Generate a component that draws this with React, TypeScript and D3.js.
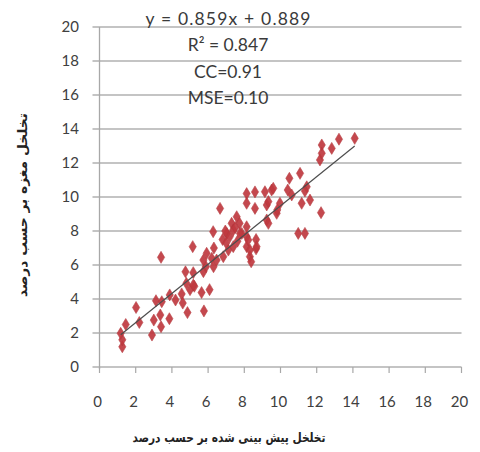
import React from "react";
import * as d3 from "d3";

// Predicted porosity (%) for each core sample
const predicted = [
  1.26, 1.26, 1.17, 1.45, 2.02, 2.2, 2.9, 3.0, 3.12, 3.36, 3.4, 3.4, 3.44, 3.86, 3.88, 4.2,
  4.54, 4.6, 4.75, 4.8, 4.86, 5.15, 5.18, 5.24, 5.0, 5.64, 5.77, 6.08, 5.88, 6.2, 6.28, 6.3,
  6.32, 6.66, 6.84, 6.8, 7.03, 7.12, 7.3, 7.39, 7.58, 7.74, 7.86, 8.13, 8.13, 8.31, 8.38, 8.59,
  8.59, 8.65, 8.65, 9.14, 9.24, 9.24, 9.51, 9.79, 14.1, 13.23, 12.83, 12.28, 12.18, 12.28, 11.08,
  10.49, 11.45, 11.35, 10.4, 11.17, 11.63, 12.24, 10.62, 9.97, 9.82, 9.6, 9.33, 9.33, 8.13, 10.98,
  11.35, 8.68, 8.13, 5.18, 5.74, 5.74, 5.92, 6.47, 7.2, 7.39, 7.76, 8.13, 8.22, 8.31, 7.0, 7.5,
  6.95, 7.62,
];

// Core-measured porosity (%) for the same samples
const measured = [
  1.19, 1.6, 1.98, 2.5, 3.5, 2.62, 1.88, 2.76, 3.9, 3.06, 2.37, 6.45, 3.84, 2.84, 4.24, 3.94,
  4.3, 3.76, 5.6, 4.92, 3.2, 7.08, 5.55, 4.75, 4.55, 4.38, 3.3, 4.55, 5.9, 6.39, 7.96, 5.9,
  7.0, 9.33, 6.49, 7.5, 7.86, 6.88, 8.45, 8.06, 8.84, 8.45, 7.86, 10.2, 7.67, 6.49, 6.19, 10.3,
  9.33, 7.5, 6.95, 10.31, 8.65, 9.53, 10.41, 9.04, 13.45, 13.4, 12.86, 13.06, 12.18, 12.57, 11.39,
  11.1, 10.6, 10.35, 10.41, 9.63, 9.82, 9.08, 10.12, 9.63, 9.24, 10.51, 9.73, 8.45, 9.63, 7.86,
  7.86, 7.08, 7.08, 4.82, 5.61, 6.29, 6.69, 6.29, 7.67, 7.08, 7.86, 8.25, 7.47, 6.88, 7.3, 8.2,
  8.0, 7.4,
];

const xTicks = [0, 2, 4, 6, 8, 10, 12, 14, 16, 18, 20];
const yTicks = [0, 2, 4, 6, 8, 10, 12, 14, 16, 18, 20];

const slope = 0.859;
const intercept = 0.889;
const statLines = ["y = 0.859x + 0.889", "R² = 0.847", "CC=0.91", "MSE=0.10"];

const xTitle = "تخلخل پیش بینی شده بر حسب درصد";
const yTitle = "تخلخل مغزه بر حسب درصد";

export default function App() {
  const width = 480;
  const height = 452;
  const left = 99.5;
  const right = 461.5;
  const top = 27;
  const bottom = 367;

  const x = d3.scaleLinear().domain([0, 20]).range([left, right]);
  const y = d3.scaleLinear().domain([0, 20]).range([bottom, top]);

  const xMin = d3.min(predicted) as number;
  const xMax = d3.max(predicted) as number;
  const trend = d3
    .line<number>()
    .x((d) => x(d))
    .y((d) => y(slope * d + intercept))([xMin, xMax]);

  const diamond = (cx: number, cy: number) => {
    const w = 3.6;
    const h = 6;
    return `M${cx},${cy - h}L${cx + w},${cy}L${cx},${cy + h}L${cx - w},${cy}Z`;
  };

  const labelFont = "Lato, 'DejaVu Sans', sans-serif";

  return (
    <svg width={width} height={height} style={{ position: "absolute", left: 0, top: 0, background: "#fff" }}>
      {/* horizontal gridlines */}
      {yTicks.map((t) => (
        <line key={`g${t}`} x1={left - 7} x2={right} y1={y(t)} y2={y(t)} stroke="#b0b0b0" strokeWidth={1.3} />
      ))}
      {/* y axis */}
      <line x1={left} x2={left} y1={top} y2={bottom + 2} stroke="#a8a8a8" strokeWidth={1.3} />
      {/* x ticks */}
      {xTicks.map((t) => (
        <line key={`xt${t}`} x1={x(t)} x2={x(t)} y1={bottom} y2={bottom + 6} stroke="#a8a8a8" strokeWidth={1.2} />
      ))}
      {/* y tick labels */}
      {yTicks.map((t) => (
        <text
          key={`yl${t}`}
          x={79}
          y={y(t)}
          dy="0.36em"
          textAnchor="end"
          fontFamily={labelFont}
          fontSize={15}
          fill="#404040"
        >
          {t}
        </text>
      ))}
      {/* x tick labels */}
      {xTicks.map((t) => (
        <text
          key={`xl${t}`}
          x={x(t) - 2}
          y={402}
          dy="0.36em"
          textAnchor="middle"
          fontFamily={labelFont}
          fontSize={15}
          fill="#404040"
        >
          {t}
        </text>
      ))}
      {/* data points */}
      {predicted.map((p, i) => (
        <path key={`p${i}`} d={diamond(x(p), y(measured[i]))} fill="#c0393f" stroke="#b3353a" strokeWidth={0.6} opacity={0.92} />
      ))}
      {/* fitted line */}
      <path d={trend ?? ""} fill="none" stroke="#4d4d4d" strokeWidth={1.2} />
      {/* regression statistics */}
      {statLines.map((s, i) => (
        <text
          key={`s${i}`}
          x={228}
          y={[19, 45, 72, 98][i]}
          dy="0.36em"
          textAnchor="middle"
          fontFamily={labelFont}
          fontSize={17.5}
          fill="#3a3a3a"
          textLength={i === 0 ? 165 : undefined}
          lengthAdjust={i === 0 ? "spacing" : undefined}
        >
          {s}
        </text>
      ))}
      {/* axis titles */}
      <text
        x={229}
        y={437}
        dy="0.36em"
        textAnchor="middle"
        fontFamily="'DejaVu Sans', sans-serif"
        fontWeight="bold"
        fontSize={13}
        fill="#222"
        direction="rtl"
        textLength={193}
        lengthAdjust="spacingAndGlyphs"
      >
        {xTitle}
      </text>
      <text
        transform={`translate(22,205) rotate(-90)`}
        dy="0.36em"
        textAnchor="middle"
        fontFamily="'DejaVu Sans', sans-serif"
        fontWeight="bold"
        fontSize={13}
        fill="#222"
        direction="rtl"
        textLength={184}
        lengthAdjust="spacingAndGlyphs"
      >
        {yTitle}
      </text>
    </svg>
  );
}
